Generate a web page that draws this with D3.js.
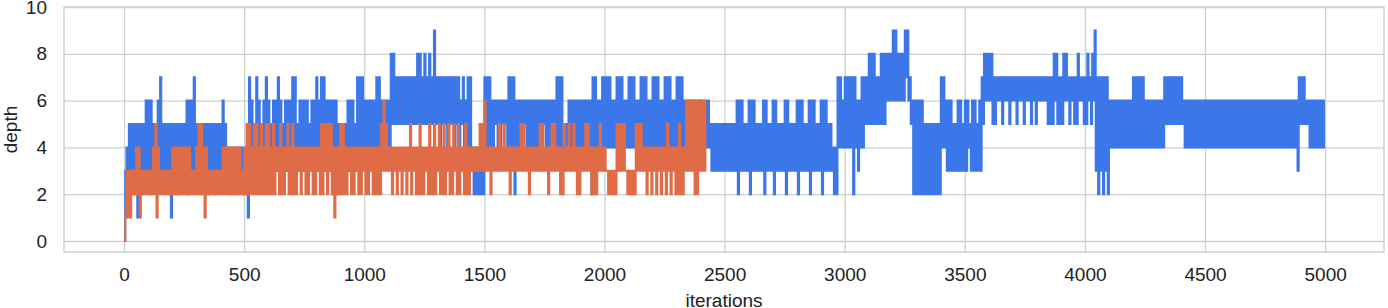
<!DOCTYPE html>
<html>
<head>
<meta charset="utf-8">
<script src="https://cdnjs.cloudflare.com/ajax/libs/d3/7.8.5/d3.min.js"></script>
<style>
  html, body { margin: 0; padding: 0; background: #fff; }
  svg { display: block; font-family: "Liberation Sans", Arial, sans-serif; }
</style>
</head>
<body>
<div id="chart"></div>
<script>
// depth per sample, one sample every 5 iterations
const iterStep = 5;

const xTicks = [0, 500, 1000, 1500, 2000, 2500, 3000, 3500, 4000, 4500, 5000];
const yTicks = [0, 2, 4, 6, 8, 10];

// blue run, iterations 0..5000
const blueDepth = [
  // 0 - 500
  0,3,4,2,5,3,5,2,5,3,5,1,5,3,5,2,5,3,6,3, 6,2,6,3,5,3,5,3,6,3,7,3,5,3,5,3,5,2,5,1,
  5,3,5,3,5,2,5,3,5,3,5,3,6,2,6,3,6,3,7,3, 5,3,5,2,5,3,5,3,5,2,5,3,5,3,5,2,5,3,5,3,
  5,3,6,3,5,3,4,3,4,2,4,3,4,2,4,3,4,3,4,2,
  // 500 - 1000
  4,3,4,1,7,3,6,3,5,3,7,3,6,3,5,3,6,3,7,3, 6,3,5,3,6,3,6,3,7,3,6,3,5,3,6,3,6,3,6,3,
  7,3,7,3,5,3,6,3,6,3,6,3,6,3,5,3,6,3,6,3, 7,3,6,3,7,3,7,3,6,3,6,3,6,2,6,3,6,2,5,3,
  5,3,5,3,5,3,6,3,6,3,6,3,5,3,7,4,7,4,7,4,
  // 1000 - 1500
  6,4,6,4,6,4,6,4,6,4,7,4,7,4,6,4,6,4,6,4, 6,4,8,5,8,5,7,5,7,5,7,5,7,5,7,5,7,5,7,5,
  7,5,7,5,8,5,8,5,7,5,8,5,7,5,8,5,7,5,9,5, 7,5,7,4,7,5,7,5,7,4,7,5,7,5,7,4,7,5,7,4,
  6,5,7,4,6,4,7,4,7,4,4,2,4,2,4,2,4,2,4,2,
  // 1500 - 2000
  7,4,7,4,7,4,6,4,6,5,6,4,6,4,6,5,6,5,6,4, 7,4,7,4,7,2,6,4,6,4,6,4,6,5,6,4,6,4,6,4,
  6,4,6,4,6,4,6,4,6,5,6,4,6,4,6,4,6,4,6,4, 7,4,7,4,7,4,5,4,5,4,6,4,6,4,6,4,6,4,6,4,
  6,4,6,4,6,4,6,4,6,2,7,4,7,4,6,4,6,4,7,4,
  // 2000 - 2500
  7,4,7,4,7,4,6,4,6,4,7,4,7,4,7,4,6,4,6,4, 7,4,7,4,7,4,6,4,6,4,7,4,7,4,7,4,6,4,6,4,
  7,4,7,4,7,4,6,4,6,4,7,4,7,4,7,4,6,4,6,4, 7,4,7,4,7,4,6,4,6,4,6,4,6,4,6,4,5,4,6,4,
  6,4,5,4,6,4,6,4,5,3,5,3,5,3,5,3,5,3,5,3,
  // 2500 - 3000
  5,3,5,3,5,3,5,3,5,3,6,2,6,3,6,3,5,3,5,3, 6,2,6,3,6,3,5,3,5,3,5,3,6,2,6,3,5,3,5,3,
  6,2,6,3,5,3,5,3,5,3,6,2,6,3,5,3,5,3,5,3, 6,2,6,3,6,3,5,3,5,3,6,2,6,3,6,3,5,3,5,3,
  6,2,6,3,6,3,5,3,5,3,4,2,4,2,7,4,7,4,6,4,
  // 3000 - 3500
  7,4,7,4,7,4,7,2,7,4,6,3,6,4,7,4,7,5,7,5, 8,5,8,5,8,5,7,5,7,5,8,5,8,5,8,6,8,6,8,6,
  9,6,9,6,8,6,8,6,8,6,9,7,9,6,7,5,6,2,6,2, 6,2,6,2,6,2,5,2,5,2,5,2,5,2,5,2,5,2,5,2,
  7,4,7,4,6,3,6,3,6,3,5,3,5,3,6,3,6,3,5,3,
  // 3500 - 4000
  6,3,6,4,5,3,6,3,6,3,5,3,6,3,7,5,8,6,8,6, 8,6,8,5,7,5,7,6,7,6,7,5,7,6,7,6,7,5,7,6,
  7,6,7,5,7,6,7,6,7,5,7,6,7,6,7,5,7,6,7,5, 7,6,7,6,7,6,7,6,7,5,7,5,7,5,8,6,8,5,7,5,
  7,5,8,6,8,6,7,5,7,6,7,5,7,5,8,6,7,6,7,5,
  // 4000 - 4500
  7,5,8,6,7,5,8,6,9,3,7,2,7,3,7,2,7,3,7,2, 6,4,6,4,6,4,6,4,6,4,6,4,6,4,6,4,6,4,6,4,
  7,4,7,4,7,4,7,4,7,4,6,4,6,4,6,4,6,4,6,4, 6,4,6,4,6,4,7,5,7,5,7,5,7,5,7,5,7,5,7,5,
  7,5,6,4,6,4,6,4,6,4,6,4,6,4,6,4,6,4,6,4,
  // 4500 - 5000
  6,4,6,4,6,4,6,4,6,4,6,4,6,4,6,4,6,4,6,4, 6,4,6,4,6,4,6,4,6,4,6,4,6,4,6,4,6,4,6,4,
  6,4,6,4,6,4,6,4,6,4,6,4,6,4,6,4,6,4,6,4, 6,4,6,4,6,4,6,4,6,4,6,4,6,4,6,4,6,3,7,5,
  7,5,7,5,6,5,6,4,6,4,6,4,6,4,6,4,6,4,6,4,
  4
];

// orange run, iterations 0..2420
const orangeDepth = [
  // 0 - 500
  0,1,3,1,3,1,3,2,3,2,4,2,4,1,3,2,3,2,3,2, 3,2,3,2,4,2,5,1,4,2,3,2,3,2,3,2,3,2,3,2,
  4,2,4,2,4,2,4,2,4,2,4,2,4,2,4,2,3,2,3,2, 4,2,5,2,5,2,4,1,4,2,3,2,3,2,3,2,3,2,3,2,
  3,2,4,2,4,2,4,2,4,2,4,2,4,2,4,2,4,2,3,2,
  // 500 - 1000
  4,2,5,2,5,2,4,2,5,2,5,2,4,2,5,2,4,2,5,2, 5,2,4,2,5,2,4,3,4,2,5,2,4,2,4,3,5,2,4,2,
  5,2,4,2,4,3,4,2,4,3,4,2,4,2,4,3,4,2,4,2, 4,3,4,2,5,2,5,3,5,2,5,3,5,2,4,1,4,2,4,2,
  5,2,5,2,4,2,4,3,4,2,4,2,4,3,4,2,4,2,4,3,
  // 1000 - 1500
  4,2,4,2,4,3,4,2,4,2,4,2,4,2,5,3,6,3,5,3, 4,3,4,2,4,3,4,2,4,3,4,2,4,3,4,2,4,3,5,2,
  4,3,4,2,4,2,5,2,4,2,4,3,4,2,5,2,4,2,5,2, 4,3,5,2,4,2,5,2,4,3,5,2,4,2,5,3,4,2,5,2,
  4,3,4,2,5,2,4,2,4,3,4,3,4,3,4,3,5,3,5,3,
  // 1500 - 2000
  6,3,4,3,4,2,4,3,4,3,4,3,5,3,4,3,5,3,4,3, 4,2,4,3,4,3,4,3,4,3,5,3,5,3,4,3,4,2,4,3,
  4,3,4,3,4,3,5,3,5,3,4,3,4,2,4,3,5,3,5,3, 4,3,4,2,4,2,5,3,4,3,5,3,4,3,5,3,4,2,4,2,
  4,3,4,3,5,3,5,3,4,2,4,2,4,2,4,3,5,3,4,3,
  // 2000 - 2420
  4,3,3,2,3,2,3,2,3,2,5,3,5,3,5,3,5,3,3,2, 3,2,3,2,3,2,5,3,5,3,5,3,4,3,4,2,4,3,4,2,
  4,3,4,2,4,3,4,2,4,3,4,2,5,3,4,2,4,3,4,2, 4,2,5,2,4,2,4,3,6,3,6,3,6,3,6,2,6,2,6,3,
  6,3,6,3,6
];

const width = 1388;
const height = 308;
const plotLeft = 64, plotRight = 1384, plotTop = 7, plotBottom = 252;
const gridColor = '#cad3cf';
const textColor = '#222';

const x = d3.scaleLinear()
            .domain([-250, 5245])
            .range([plotLeft, plotRight]);

const y = d3.scaleLinear()
            .domain([-0.47, 10])
            .range([plotBottom, plotTop]);

const svg = d3.select('#chart')
              .append('svg')
              .attr('width', width)
              .attr('height', height);

// x grid + labels
const xAxis = svg.append('g')
                 .attr('transform', `translate(0,${plotBottom})`)
                 .call(d3.axisBottom(x)
                         .tickValues(xTicks)
                         .tickSize(-(plotBottom - plotTop))
                         .tickPadding(16)
                         .tickFormat(d => String(d)));

// y grid + labels
const yAxis = svg.append('g')
                 .attr('transform', `translate(${plotLeft},0)`)
                 .call(d3.axisLeft(y)
                         .tickValues(yTicks)
                         .tickSize(-(plotRight - plotLeft))
                         .tickPadding(17)
                         .tickFormat(d => String(d)));

[xAxis, yAxis].forEach(ax => {
    ax.select('.domain').remove();
    ax.selectAll('line').attr('stroke', gridColor).attr('stroke-width', 1.3);
    ax.selectAll('text')
      .attr('fill', textColor)
      .style('font-size', '19px')
      .style('font-family', '"Liberation Sans", Arial, sans-serif');
});

// frame
svg.append('rect')
   .attr('x', plotLeft)
   .attr('y', plotTop)
   .attr('width', plotRight - plotLeft)
   .attr('height', plotBottom - plotTop)
   .attr('fill', 'none')
   .attr('stroke', gridColor)
   .attr('stroke-width', 1.5);

const line = d3.line()
               .x((d, i) => x(i * iterStep))
               .y(d => y(d))
               .curve(d3.curveStepAfter);

svg.append('path')
   .datum(blueDepth)
   .attr('fill', 'none')
   .attr('stroke', '#3b77e9')
   .attr('stroke-width', 2)
   .attr('d', line);

svg.append('path')
   .datum(orangeDepth)
   .attr('fill', 'none')
   .attr('stroke', '#e06c47')
   .attr('stroke-width', 2)
   .attr('d', line);

// axis titles
svg.append('text')
   .attr('x', (plotLeft + plotRight) / 2)
   .attr('y', 307)
   .attr('text-anchor', 'middle')
   .attr('fill', textColor)
   .style('font-size', '19px')
   .text('iterations');

svg.append('text')
   .attr('transform', `translate(17,${(plotTop + plotBottom) / 2}) rotate(-90)`)
   .attr('text-anchor', 'middle')
   .attr('fill', textColor)
   .style('font-size', '19px')
   .text('depth');
</script>
</body>
</html>
